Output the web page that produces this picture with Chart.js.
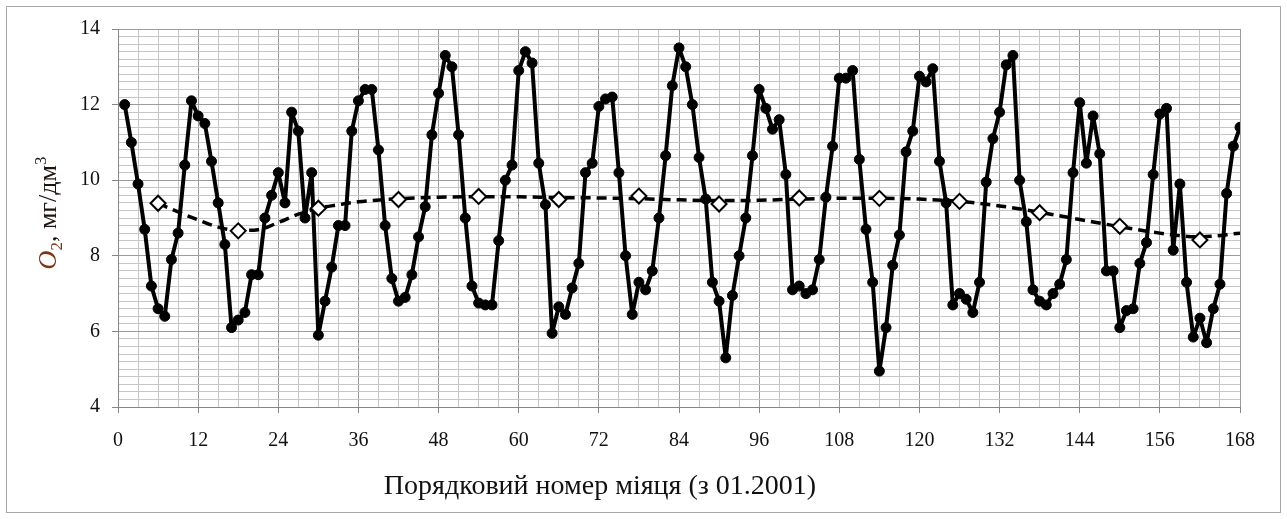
<!DOCTYPE html>
<html>
<head>
<meta charset="utf-8">
<script src="https://cdn.jsdelivr.net/npm/chart.js@4/dist/chart.umd.min.js"></script>
<style>
  html, body { margin: 0; padding: 0; background: #fff; }
  #wrap { position: relative; width: 1287px; height: 519px; }
</style>
</head>
<body>
<div id="wrap"><canvas id="o2-chart" width="1287" height="519"></canvas></div>
<script>
// monthly dissolved oxygen, months 1..168 starting 01.2001
const o2Values = [
  12.0, 11.0, 9.9, 8.7, 7.2, 6.6, 6.4, 7.9, 8.6, 10.4, 12.1, 11.7,
  11.5, 10.5, 9.4, 8.3, 6.1, 6.3, 6.5, 7.5, 7.5, 9.0, 9.6, 10.2,
  9.4, 11.8, 11.3, 9.0, 10.2, 5.9, 6.8, 7.7, 8.8, 8.8, 11.3, 12.1,
  12.4, 12.4, 10.8, 8.8, 7.4, 6.8, 6.9, 7.5, 8.5, 9.3, 11.2, 12.3,
  13.3, 13.0, 11.2, 9.0, 7.2, 6.75, 6.7, 6.7, 8.4, 10.0, 10.4, 12.9,
  13.4, 13.1, 10.45, 9.35, 5.95, 6.65, 6.45, 7.15, 7.8, 10.2, 10.45, 11.95,
  12.15, 12.2, 10.2, 8.0, 6.45, 7.3, 7.1, 7.6, 9.0, 10.65, 12.5, 13.5,
  13.0, 12.0, 10.6, 9.5, 7.3, 6.8, 5.3, 6.95, 8.0, 9.0, 10.65, 12.4,
  11.9, 11.35, 11.6, 10.15, 7.1, 7.2, 7.0, 7.1, 7.9, 9.55, 10.9, 12.7,
  12.7, 12.9, 10.55, 8.7, 7.3, 4.95, 6.1, 7.75, 8.55, 10.75, 11.3, 12.75,
  12.6, 12.95, 10.5, 9.4, 6.7, 7.0, 6.85, 6.5, 7.3, 9.95, 11.1, 11.8,
  13.05, 13.3, 10.0, 8.9, 7.1, 6.8, 6.7, 7.0, 7.25, 7.9, 10.2, 12.05,
  10.45, 11.7, 10.7, 7.6, 7.6, 6.1, 6.55, 6.6, 7.8, 8.35, 10.15, 11.75,
  11.9, 8.15, 9.9, 7.3, 5.85, 6.35, 5.7, 6.6, 7.25, 9.65, 10.9, 11.4
];
const monthNumbers = o2Values.map((_, i) => i + 1);

// annual means, plotted mid-year
const annualMonths = [6, 18, 30, 42, 54, 66, 78, 90, 102, 114, 126, 138, 150, 162];
const annualMeans = [9.39, 8.66, 9.26, 9.49, 9.57, 9.49, 9.58, 9.37, 9.53, 9.52, 9.44, 9.14, 8.78, 8.42];

// trend line
const trendMonths = [6, 9, 12, 15, 18, 21, 24, 27, 30, 33, 36, 42, 48, 54, 60, 66, 72, 78, 84, 90, 96, 102, 108, 114, 120, 126, 132, 138, 144, 150, 156, 162, 168];
const trendValues = [9.39, 9.16, 8.95, 8.76, 8.67, 8.69, 8.88, 9.1, 9.26, 9.35, 9.43, 9.51, 9.55, 9.56, 9.56, 9.54, 9.53, 9.51, 9.48, 9.46, 9.47, 9.5, 9.52, 9.52, 9.5, 9.44, 9.32, 9.15, 8.96, 8.77, 8.6, 8.5, 8.6];

const xLabelEvery = 12;
const yLabelEvery = 2;
const xTitle = "Порядковий номер міяця (з 01.2001)";

const pairs = (xs, ys) => xs.map((x, i) => ({ x, y: ys[i] }));
const isMultiple = (v, step) => Math.abs(v / step - Math.round(v / step)) < 1e-6;

const GRID_MINOR = "#c6c6c6";
const GRID_MAJOR = "#9c9c9c";
const AXIS = "#868686";
const SERIF = "'Liberation Serif', 'Times New Roman', serif";

const titlesPlugin = {
  id: "titles",
  afterDraw(chart) {
    const { ctx } = chart;
    ctx.save();
    // outer frame
    ctx.strokeStyle = "#a6a6a6";
    ctx.lineWidth = 1;
    ctx.strokeRect(6.5, 6.5, 1274, 506);

    // x title
    ctx.fillStyle = "#111";
    ctx.font = `28px ${SERIF}`;
    ctx.textAlign = "center";
    ctx.textBaseline = "middle";
    ctx.fillText(xTitle, 600, 487);

    // y title: O2, мг/дм3 rotated
    const parts = [
      { text: "O", font: `italic 26px ${SERIF}`, color: "#7b3414", dy: 0 },
      { text: "2", font: `17px ${SERIF}`, color: "#7b3414", dy: 6 },
      { text: ", мг/дм", font: `26px ${SERIF}`, color: "#1e1410", dy: 0 },
      { text: "3", font: `17px ${SERIF}`, color: "#1e1410", dy: -10 },
    ];
    let total = 0;
    parts.forEach((p) => {
      ctx.font = p.font;
      p.w = ctx.measureText(p.text).width;
      total += p.w;
    });
    ctx.translate(56, 213);
    ctx.rotate(-Math.PI / 2);
    ctx.textAlign = "left";
    ctx.textBaseline = "alphabetic";
    let x = -total / 2;
    parts.forEach((p) => {
      ctx.font = p.font;
      ctx.fillStyle = p.color;
      ctx.fillText(p.text, x, p.dy);
      x += p.w;
    });
    ctx.restore();
  },
};

new Chart(document.getElementById("o2-chart"), {
  type: "line",
  data: {
    datasets: [
      {
        label: "annual",
        data: pairs(annualMonths, annualMeans),
        showLine: false,
        pointStyle: "rectRot",
        pointRadius: 7.5,
        pointBorderWidth: 2,
        pointBackgroundColor: "#fff",
        pointBorderColor: "#000",
        order: 0,
      },
      {
        label: "O2",
        data: pairs(monthNumbers, o2Values),
        borderColor: "#000",
        borderWidth: 4,
        borderJoinStyle: "round",
        borderCapStyle: "round",
        pointRadius: 5,
        pointBackgroundColor: "#000",
        pointBorderColor: "#000",
        pointBorderWidth: 1,
        tension: 0,
        order: 1,
      },
      {
        label: "trend",
        data: pairs(trendMonths, trendValues),
        borderColor: "#000",
        borderWidth: 3.5,
        borderDash: [10, 6],
        pointRadius: 0,
        cubicInterpolationMode: "monotone",
        order: 2,
      },
    ],
  },
  options: {
    responsive: false,
    animation: false,
    devicePixelRatio: 1,
    layout: { padding: { left: 0, right: 47, top: 29, bottom: 0 } },
    plugins: { legend: { display: false }, tooltip: { enabled: false } },
    scales: {
      x: {
        type: "linear",
        min: 0,
        max: 168,
        afterFit: (scale) => { scale.height = 112; },
        border: { color: AXIS, width: 1 },
        grid: {
          color: (c) => (c.tick && isMultiple(c.tick.value, xLabelEvery) ? GRID_MAJOR : GRID_MINOR),
          tickColor: (c) => (c.tick && isMultiple(c.tick.value, xLabelEvery) ? AXIS : "rgba(0,0,0,0)"),
          tickLength: 6,
          lineWidth: 1,
        },
        ticks: {
          stepSize: 3,
          maxTicksLimit: 1000,
          autoSkip: false,
          maxRotation: 0,
          padding: 16,
          color: "#111",
          font: { family: SERIF, size: 20 },
          callback: (v) => (isMultiple(v, xLabelEvery) ? String(v) : ""),
        },
      },
      y: {
        min: 4,
        max: 14,
        afterFit: (scale) => { scale.width = 118; },
        border: { color: AXIS, width: 1 },
        grid: {
          color: (c) => (c.tick && isMultiple(c.tick.value, yLabelEvery) ? GRID_MAJOR : GRID_MINOR),
          tickColor: (c) => (c.tick && isMultiple(c.tick.value, yLabelEvery) ? AXIS : "rgba(0,0,0,0)"),
          tickLength: 6,
          lineWidth: 1,
        },
        ticks: {
          stepSize: 0.2,
          maxTicksLimit: 1000,
          autoSkip: false,
          padding: 12,
          color: "#111",
          font: { family: SERIF, size: 20 },
          callback: (v) => (isMultiple(v, yLabelEvery) ? String(Math.round(v)) : ""),
        },
      },
    },
  },
  plugins: [titlesPlugin],
});
</script>
</body>
</html>
